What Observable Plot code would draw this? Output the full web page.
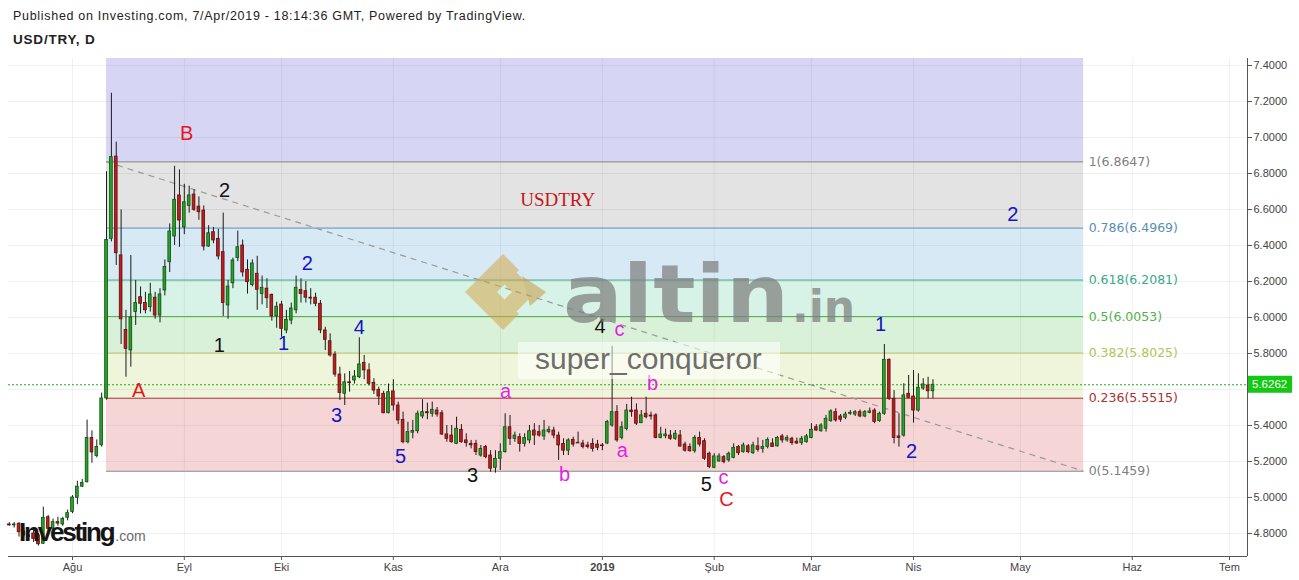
<!DOCTYPE html>
<html><head><meta charset="utf-8">
<script src="https://cdn.jsdelivr.net/npm/d3@7"></script>
<script src="https://cdn.jsdelivr.net/npm/@observablehq/plot@0.6"></script>
<style>
body{margin:0;background:#fff;}
#wrap{position:relative;width:1299px;height:580px;overflow:hidden;font-family:"Liberation Sans",Arial,sans-serif;background:#fff;}
#chart{position:absolute;left:0;top:0;}
.hdr{position:absolute;left:13px;color:#222;white-space:nowrap;line-height:1.2;}
#ov{position:absolute;left:0;top:0;pointer-events:none;}
</style></head><body>
<div id="wrap">
<div id="chart"></div>
<div class="hdr" style="top:9px;font-size:12.5px;letter-spacing:0.7px">Published on Investing.com, 7/Apr/2019 - 18:14:36 GMT, Powered by TradingView.</div>
<div class="hdr" style="top:32px;font-size:13.5px;font-weight:bold;letter-spacing:0.8px">USD/TRY, D</div>
</div>
<script>
// ---------- DATA ----------
const startDate = "2018-07-13"; // first daily bar (weekdays only)
const open = [4.85,4.845,4.854,4.81,4.79,4.80,4.79,4.743,4.89,4.826,4.863,4.85,4.887,4.92,4.998,5.06,5.085,5.33,5.23,5.29,
5.55,6.437,6.894,6.345,5.93,5.817,6.03,6.113,6.08,6.057,6.11,6.011,6.15,6.307,6.45,6.678,6.50,6.62,6.683,6.616,
6.594,6.394,6.474,6.437,6.363,6.067,6.19,6.33,6.40,6.265,6.18,6.243,6.13,6.16,6.126,6.006,6.072,5.928,5.983,6.04,
6.153,6.146,6.11,6.11,6.076,5.928,5.868,5.794,5.683,5.576,5.64,5.65,5.668,5.748,5.706,5.637,5.598,5.576,5.468,5.589,
5.511,5.431,5.307,5.36,5.368,5.45,5.474,5.465,5.483,5.468,5.35,5.344,5.298,5.376,5.317,5.298,5.298,5.233,5.28,5.233,
5.165,5.215,5.252,5.39,5.326,5.335,5.298,5.317,5.372,5.363,5.339,5.363,5.372,5.344,5.298,5.26,5.32,5.30,5.30,5.289,
5.298,5.294,5.289,5.30,5.40,5.474,5.331,5.38,5.483,5.483,5.413,5.465,5.455,5.456,5.33,5.34,5.344,5.326,5.344,5.294,
5.28,5.257,5.331,5.313,5.243,5.165,5.20,5.224,5.206,5.22,5.28,5.252,5.284,5.246,5.284,5.27,5.28,5.30,5.284,5.339,
5.317,5.326,5.31,5.302,5.307,5.331,5.39,5.368,5.382,5.424,5.474,5.45,5.443,5.465,5.461,5.474,5.45,5.47,5.483,5.424,
5.465,5.765,5.548,5.339,5.344,5.576,5.561,5.483,5.605,5.622,5.59];
const high = [4.86,4.86,4.86,4.83,4.81,4.82,4.80,4.946,4.90,4.88,4.89,4.89,4.93,5.01,5.09,5.10,5.43,5.37,5.32,5.58,
6.81,7.246,6.974,6.598,6.04,6.344,6.206,6.17,6.14,6.19,6.14,6.16,6.32,6.52,6.84,6.82,6.74,6.73,6.71,6.67,
6.62,6.51,6.50,6.49,6.58,6.206,6.33,6.48,6.43,6.32,6.32,6.34,6.23,6.215,6.13,6.085,6.09,6.04,6.08,6.23,
6.215,6.20,6.16,6.135,6.094,5.946,5.909,5.81,5.724,5.687,5.70,5.705,5.887,5.789,5.743,5.66,5.613,5.59,5.63,5.654,
5.53,5.474,5.418,5.428,5.48,5.543,5.524,5.53,5.50,5.483,5.40,5.40,5.446,5.405,5.354,5.317,5.317,5.289,5.289,5.26,
5.26,5.298,5.465,5.456,5.363,5.354,5.354,5.40,5.41,5.40,5.428,5.394,5.39,5.363,5.326,5.326,5.335,5.363,5.317,5.307,
5.326,5.317,5.30,5.428,5.84,5.51,5.42,5.517,5.557,5.52,5.483,5.557,5.474,5.465,5.39,5.38,5.372,5.372,5.372,5.307,
5.298,5.344,5.363,5.326,5.252,5.243,5.243,5.233,5.252,5.298,5.289,5.302,5.294,5.307,5.331,5.317,5.331,5.326,5.339,5.35,
5.344,5.335,5.33,5.339,5.35,5.41,5.405,5.41,5.456,5.487,5.493,5.461,5.474,5.483,5.483,5.487,5.483,5.497,5.493,5.474,
5.85,5.77,5.594,5.465,5.632,5.678,5.705,5.687,5.66,5.668,5.654];
const low = [4.84,4.83,4.78,4.78,4.76,4.75,4.73,4.74,4.80,4.79,4.84,4.84,4.87,4.91,4.96,5.055,5.08,5.19,5.22,5.28,
5.54,6.42,6.289,5.85,5.668,5.724,5.956,6.02,6.02,6.03,5.99,5.97,6.12,6.25,6.40,6.39,6.46,6.58,6.59,6.54,
6.37,6.39,6.41,6.32,6.006,5.99,6.16,6.31,6.224,6.13,6.17,6.04,6.07,6.05,5.98,5.94,5.89,5.91,5.96,6.02,
6.08,6.08,6.07,6.06,5.91,5.817,5.78,5.668,5.539,5.511,5.585,5.63,5.66,5.654,5.62,5.572,5.511,5.465,5.465,5.48,
5.405,5.298,5.298,5.326,5.354,5.437,5.432,5.446,5.446,5.344,5.307,5.302,5.294,5.302,5.28,5.27,5.233,5.224,5.215,5.14,
5.135,5.15,5.246,5.289,5.307,5.252,5.28,5.298,5.289,5.335,5.317,5.354,5.326,5.206,5.233,5.233,5.28,5.30,5.27,5.27,
5.252,5.26,5.26,5.294,5.39,5.307,5.32,5.37,5.446,5.40,5.41,5.437,5.43,5.326,5.326,5.326,5.317,5.317,5.28,5.252,
5.252,5.246,5.28,5.206,5.16,5.16,5.196,5.187,5.196,5.215,5.233,5.246,5.243,5.239,5.252,5.246,5.27,5.28,5.28,5.302,
5.307,5.289,5.294,5.289,5.302,5.326,5.368,5.363,5.363,5.418,5.418,5.418,5.432,5.456,5.45,5.443,5.443,5.465,5.41,5.418,
5.456,5.539,5.298,5.28,5.335,5.548,5.413,5.474,5.595,5.548,5.548];
const close = [4.845,4.85,4.807,4.79,4.78,4.77,4.74,4.887,4.826,4.863,4.855,4.88,4.913,5.00,5.06,5.08,5.33,5.25,5.28,5.55,
6.43,6.891,6.357,5.99,5.826,6.00,6.08,6.076,6.04,6.128,6.011,6.128,6.28,6.478,6.654,6.539,6.64,6.678,6.598,6.585,
6.394,6.468,6.428,6.339,6.08,6.172,6.317,6.39,6.25,6.196,6.30,6.154,6.165,6.107,6.006,6.06,5.937,5.987,6.05,6.165,
6.13,6.11,6.105,6.076,5.928,5.876,5.789,5.683,5.58,5.64,5.635,5.672,5.739,5.706,5.632,5.594,5.561,5.468,5.585,5.511,
5.428,5.307,5.363,5.37,5.465,5.474,5.468,5.487,5.461,5.35,5.326,5.307,5.382,5.307,5.302,5.29,5.252,5.27,5.224,5.16,
5.215,5.252,5.39,5.326,5.344,5.298,5.33,5.368,5.344,5.344,5.372,5.376,5.344,5.289,5.26,5.317,5.294,5.304,5.28,5.28,
5.27,5.276,5.285,5.419,5.474,5.317,5.39,5.483,5.474,5.41,5.456,5.446,5.45,5.33,5.35,5.35,5.326,5.354,5.283,5.26,
5.257,5.331,5.294,5.215,5.169,5.228,5.228,5.196,5.243,5.276,5.246,5.289,5.252,5.289,5.265,5.28,5.32,5.28,5.331,5.317,
5.331,5.302,5.30,5.326,5.339,5.376,5.372,5.40,5.437,5.478,5.428,5.432,5.461,5.47,5.474,5.45,5.474,5.478,5.419,5.465,
5.765,5.548,5.331,5.331,5.567,5.554,5.483,5.61,5.628,5.59,5.6262];
const lastPrice = 5.6262;

const monthStarts = ["2018-08-01","2018-09-01","2018-10-01","2018-11-01","2018-12-01","2019-01-01","2019-02-01","2019-03-01","2019-04-01","2019-05-01","2019-06-01","2019-07-01"];
const monthLabels = ["Ağu","Eyl","Eki","Kas","Ara","2019","Şub","Mar","Nis","May","Haz","Tem"];
const yGrid = [4.8,5.0,5.2,5.4,5.6,5.8,6.0,6.2,6.4,6.6,6.8,7.0,7.2,7.4];
const yTickLabels = [4.8,5.0,5.2,5.4,5.8,6.0,6.2,6.4,6.6,6.8,7.0,7.2,7.4]; // 5.6 hidden behind the price tag

// Fibonacci retracement drawn from 2018-08-10 to 2019-05-20
const fibFrom = "2018-08-10", fibTo = "2019-05-20";
const fibRatios = [0, 0.236, 0.382, 0.5, 0.618, 0.786, 1, 1.618];
const fibPrices = [5.1459, 5.5515, 5.8025, 6.0053, 6.2081, 6.4969, 6.8647, 7.9269];

// Elliott wave annotations (bar index, price, label)
const wavesRed = [[36.5,7.022,"B"],[26.6,5.594,"A"],[147.5,4.989,"C"]];
const wavesBlack = [[44.3,6.706,"2"],[43.2,5.844,"1"],[95.3,5.122,"3"],[121.5,5.95,"4"],[143.4,5.072,"5"]];
const wavesBlue = [[61.3,6.30,"2"],[56.4,5.856,"1"],[67.3,5.456,"3"],[72.0,5.944,"4"],[80.5,5.228,"5"],[179.2,5.961,"1"],[185.6,5.256,"2"],[206.4,6.572,"2"]];
const wavesMagenta = [[102.1,5.589,"a"],[114.2,5.128,"b"],[125.5,5.93,"c"],[126.1,5.261,"a"],[132.3,5.633,"b"],[146.9,5.111,"c"]];
const noteText = [[112.8,6.656,"USDTRY"]];

// ---------- HELPERS ----------
function tIndex(ds){
  const s=new Date(startDate+"T00:00:00Z"), d=new Date(ds+"T00:00:00Z"); let n=0;
  for(const t=new Date(s); t<d; t.setUTCDate(t.getUTCDate()+1)){const w=t.getUTCDay(); if(w!==0&&w!==6) n++;}
  return n;
}
const bars = open.map((o,i)=>({i,o,h:high[i],l:low[i],c:close[i]}));
const up = bars.filter(d=>d.c>=d.o), dn = bars.filter(d=>d.c<d.o);
const monthIdx = monthStarts.map(tIndex);
const labelAt = new Map(monthIdx.map((v,k)=>[v,monthLabels[k]]));
const f0 = tIndex(fibFrom), f1 = tIndex(fibTo);

// styles
const bandFill = ["#f5d5d5","#eff5da","#d9f1d8","#d7f2e7","#d6e9f5","#e3e3e3","#d6d6f4"];
const lineCol = ["#808080","#a83232","#b2c45a","#55b04f","#3aa88c","#5a8db4","#808080"];
const bands = fibPrices.slice(0,-1).map((p,k)=>({lo:p,hi:fibPrices[k+1],fill:bandFill[k]}));
const levels = fibRatios.slice(0,7).map((r,k)=>({r,p:fibPrices[k],col:lineCol[k]}));
const wv = (arr,col)=>arr.map(([i,p,t])=>({i,p,t,col}));
const waves = [...wv(wavesRed,"#e8161b"),...wv(wavesBlack,"#111"),...wv(wavesBlue,"#1414c8"),...wv(wavesMagenta,"#e61ee6")];

const x0=-0.165, x1=254.7, y0=4.672, y1=7.439;
const fmt4 = d3.format(".4f");

const plot = Plot.plot({
  width:1299, height:580, marginLeft:8, marginRight:52, marginTop:58, marginBottom:24,
  x:{type:"linear", domain:[x0,x1]},
  y:{type:"linear", domain:[y0,y1]},
  color:{type:"identity"},
  style:{fontFamily:"Liberation Sans, Arial, sans-serif", fontSize:"11px", background:"transparent", color:"#444"},
  marks:[
    Plot.rect(bands,{x1:f0,x2:f1,y1:"lo",y2:"hi",fill:"fill",clip:true}),
    Plot.ruleY(yGrid,{stroke:"rgba(0,0,0,0.055)"}),
    Plot.ruleX(monthIdx,{stroke:"rgba(0,0,0,0.055)"}),
    Plot.ruleY(levels,{y:"p",x1:f0,x2:f1,stroke:"col",strokeWidth:1}),
    Plot.link([{a:f0,b:fibPrices[6],c:f1,d:fibPrices[0]}],{x1:"a",y1:"b",x2:"c",y2:"d",stroke:"#9a9a9a",strokeWidth:1.2,strokeDasharray:"6,5"}),
    Plot.ruleY([lastPrice],{stroke:"#1fae1f",strokeDasharray:"2,2",strokeWidth:1}),
    Plot.ruleX(bars,{x:"i",y1:"l",y2:"h",stroke:"#1b1b1b",strokeWidth:1}),
    Plot.rect(up,{x1:d=>d.i-0.28,x2:d=>d.i+0.28,y1:"o",y2:"c",fill:"#25a525",stroke:"#124d12",strokeWidth:0.8}),
    Plot.rect(dn,{x1:d=>d.i-0.28,x2:d=>d.i+0.28,y1:"o",y2:"c",fill:"#c41c1c",stroke:"#561010",strokeWidth:0.8}),
    Plot.text(levels,{x:f1,y:"p",text:d=>`${d.r}(${fmt4(d.p)})`,fill:"col",dx:5,textAnchor:"start",fontSize:12.5,fontFamily:"DejaVu Sans"}),
    Plot.text(waves,{x:"i",y:"p",text:"t",fill:"col",fontSize:20}),
    Plot.text(noteText,{x:d=>d[0],y:d=>d[1],text:d=>d[2],fill:"#c41616",fontSize:19,fontFamily:"Liberation Serif, Times New Roman, serif"}),
    Plot.axisY(yTickLabels,{anchor:"right",tickFormat:fmt4,tickSize:4,tickPadding:2,stroke:"#555",fill:"#444",fontSize:11,label:null}),
    Plot.axisX(monthIdx,{anchor:"bottom",tickFormat:d=>labelAt.get(d),tickSize:4,tickPadding:3,stroke:"#555",fill:"#444",fontSize:11,label:null}),
    Plot.ruleX([x1],{stroke:"#555"}),
    Plot.ruleY([y0],{stroke:"#555"})
  ]
});
document.getElementById("chart").appendChild(plot);
d3.select(plot).selectAll("text").filter(function(){return this.textContent==="2019";}).attr("font-weight","bold");

// ---------- overlay (watermarks, logo, price tag) ----------
const ys = plot.scale("y");
const py = ys.apply(lastPrice);
const ov = d3.select("#wrap").append("svg").attr("id","ov").attr("width",1299).attr("height",580);
// altin logo
const lg = ov.append("g").attr("opacity",0.55);
lg.append("path").attr("d","M503 254 L465 292 L503 330 L519 314 L497 292 L519 270 Z").attr("fill","#d4a64a");
lg.append("path").attr("d","M506 262 L536 292 L506 322 L494 310 L512 292 L500 280 Z").attr("fill","#d4a64a");
lg.append("path").attr("d","M522 276 L546 292 L530 306 Z").attr("fill","#c89a40");
ov.append("text").attr("x",563).attr("y",322).attr("font-family","DejaVu Sans").attr("font-weight","bold").attr("font-size",80)
  .attr("textLength",226).attr("lengthAdjust","spacingAndGlyphs").attr("fill","#7c7c7c").attr("opacity",0.7).text("altin");
ov.append("text").attr("x",792).attr("y",322).attr("font-family","DejaVu Sans").attr("font-weight","bold").attr("font-size",44)
  .attr("fill","#7c7c7c").attr("opacity",0.7).text(".in");
// super_conqueror
ov.append("rect").attr("x",518).attr("y",342).attr("width",262).attr("height",37).attr("fill","#fff").attr("opacity",0.55);
ov.append("text").attr("x",535).attr("y",369).attr("font-family","Liberation Sans").attr("font-size",30).attr("fill","#6e6e6e").text("super_conqueror");
// Investing.com logo
const inv = ov.append("text").attr("x",19).attr("y",541).attr("font-family","Liberation Sans");
inv.append("tspan").attr("font-weight","bold").attr("font-size",26).attr("letter-spacing",-2.2).attr("fill","#151515").text("Investing");
inv.append("tspan").attr("font-size",14).attr("fill","#6a6a6a").attr("dx",2).text(".com");
// last price tag
ov.append("rect").attr("x",1248).attr("y",py-8.5).attr("width",44).attr("height",17).attr("fill","#14c814");
ov.append("text").attr("x",1252).attr("y",py+4).attr("font-family","Liberation Sans").attr("font-size",11.5).attr("fill","#fff").text(fmt4(lastPrice));
</script>
</body></html>
